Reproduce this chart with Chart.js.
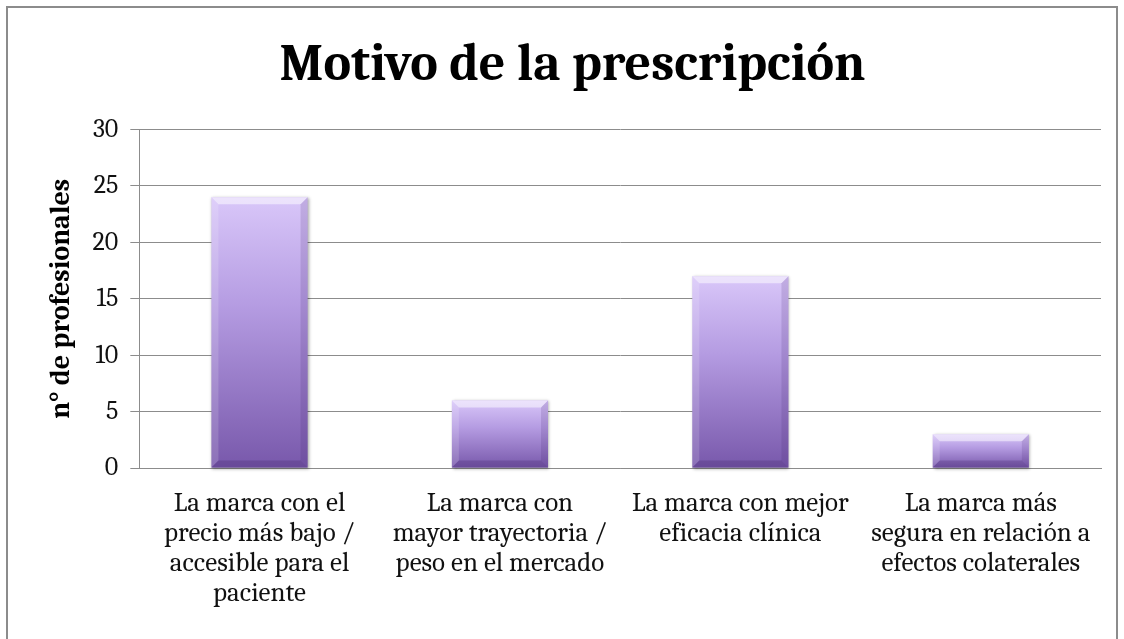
<!DOCTYPE html>
<html>
<head>
<meta charset="utf-8">
<script src="https://cdn.jsdelivr.net/npm/chart.js@4/dist/chart.umd.min.js"></script>
<style>
  html, body { margin: 0; padding: 0; background: #fff; }
  #frame {
    position: absolute; left: 6px; top: 6px; width: 1112px; height: 640px;
    border: 2px solid #8c8c8c; box-sizing: border-box;
  }
  #wrap { position: absolute; left: 0; top: 0; width: 1124px; height: 639px; }
</style>
</head>
<body>
<div id="frame"></div>
<div id="wrap"><canvas id="chart"></canvas></div>
<script>
// Données du graphique
const categories = [
  ["La marca con el", "precio más bajo /", "accesible para el", "paciente"],
  ["La marca con", "mayor trayectoria /", "peso en el mercado"],
  ["La marca con mejor", "eficacia clínica"],
  ["La marca más", "segura en relación a", "efectos colaterales"],
];
const professionals = [24, 6, 17, 3];
const yTicks = [0, 5, 10, 15, 20, 25, 30];

const serif = "Cambria, 'Liberation Serif', 'DejaVu Serif', serif";

// Barres en dégradé avec effet biseauté
const bevelPlugin = {
  id: "bevel",
  afterDatasetsDraw(chart) {
    const ctx = chart.ctx;
    chart.getDatasetMeta(0).data.forEach((bar) => {
      const { x, y, base, width } = bar.getProps(["x", "y", "base", "width"], true);
      const l = x - width / 2, r = x + width / 2;
      const h = base - y;
      const b = Math.min(7, h / 2);
      ctx.save();
      // ombre légère
      ctx.shadowColor = "rgba(0,0,0,0.35)";
      ctx.shadowBlur = 3;
      ctx.shadowOffsetX = 1;
      ctx.shadowOffsetY = 1;
      const g = ctx.createLinearGradient(0, y, 0, base);
      g.addColorStop(0, "#d9c7f9");
      g.addColorStop(0.4, "#b59ce2");
      g.addColorStop(1, "#7858ab");
      ctx.fillStyle = g;
      ctx.fillRect(l, y, width, h);
      ctx.shadowColor = "transparent";
      // haut clair
      ctx.fillStyle = "rgba(255,255,255,0.5)";
      ctx.beginPath();
      ctx.moveTo(l, y); ctx.lineTo(r, y); ctx.lineTo(r - b, y + b); ctx.lineTo(l + b, y + b);
      ctx.closePath(); ctx.fill();
      // côté gauche
      ctx.fillStyle = "rgba(255,255,255,0.15)";
      ctx.beginPath();
      ctx.moveTo(l, y); ctx.lineTo(l + b, y + b); ctx.lineTo(l + b, base - b); ctx.lineTo(l, base);
      ctx.closePath(); ctx.fill();
      // côté droit
      ctx.fillStyle = "rgba(60,30,100,0.15)";
      ctx.beginPath();
      ctx.moveTo(r, y); ctx.lineTo(r - b, y + b); ctx.lineTo(r - b, base - b); ctx.lineTo(r, base);
      ctx.closePath(); ctx.fill();
      // bas foncé
      ctx.fillStyle = "rgba(60,30,100,0.25)";
      ctx.beginPath();
      ctx.moveTo(l, base); ctx.lineTo(r, base); ctx.lineTo(r - b, base - b); ctx.lineTo(l + b, base - b);
      ctx.closePath(); ctx.fill();
      ctx.restore();
    });
  },
};

const ctx = document.getElementById("chart").getContext("2d");
new Chart(ctx, {
  type: "bar",
  data: {
    labels: categories,
    datasets: [
      {
        data: professionals,
        backgroundColor: "rgba(0,0,0,0)",
        borderWidth: 0,
        barPercentage: 0.4,
        categoryPercentage: 1,
      },
    ],
  },
  options: {
    responsive: true,
    maintainAspectRatio: false,
    animation: false,
    layout: { padding: { left: 44, right: 23, top: 18, bottom: 19 } },
    plugins: {
      legend: { display: false },
      tooltip: { enabled: false },
      title: {
        display: true,
        text: "Motivo de la prescripción",
        color: "#000",
        font: { family: serif, size: 52, weight: "bold" },
        padding: { top: 16, bottom: 33 },
      },
    },
    scales: {
      x: {
        grid: { display: false },
        border: { color: "#8c8c8c", width: 1 },
        ticks: {
          color: "#111",
          maxRotation: 0,
          autoSkip: false,
          padding: 12,
          font: { family: serif, size: 27, lineHeight: 1.11 },
        },
      },
      y: {
        min: 0,
        max: 30,
        afterBuildTicks: (axis) => {
          axis.ticks = yTicks.map((v) => ({ value: v }));
        },
        grid: { color: "#8c8c8c", tickLength: 9, lineWidth: 1 },
        border: { color: "#8c8c8c", width: 1 },
        ticks: {
          color: "#111",
          padding: 12,
          font: { family: serif, size: 26 },
        },
        title: {
          display: true,
          text: "n° de profesionales",
          color: "#000",
          font: { family: serif, size: 28, weight: "bold" },
          padding: { top: 0, bottom: 3 },
        },
      },
    },
  },
  plugins: [bevelPlugin],
});
</script>
</body>
</html>
